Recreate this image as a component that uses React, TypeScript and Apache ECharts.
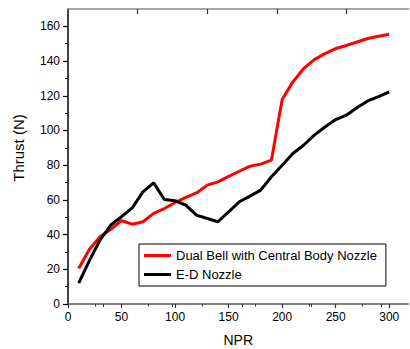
import React, { useEffect, useRef } from "react";
import * as echarts from "echarts";

const npr = [10, 20, 30, 40, 50, 60, 70, 80, 90, 100, 110, 120, 130, 140, 150, 160, 170, 180, 190, 200, 210, 220, 230, 240, 250, 260, 270, 280, 290, 300];
const dualBell = [20.5, 31.5, 38.7, 43, 48, 46, 47.4, 52.2, 55, 58.5, 61.5, 64, 68.5, 70.4, 73.5, 76.5, 79.4, 80.6, 82.9, 117.8, 128, 135.6, 140.8, 144.3, 147.2, 149, 151, 153, 154.3, 155.4];
const edNozzle = [12, 25, 37, 45.5, 50.3, 55.4, 64.6, 69.8, 60.2, 59.5, 57, 51.2, 49.3, 47.4, 53.1, 58.9, 62.2, 65.6, 73.3, 80, 86.7, 91.5, 97.3, 102, 106.3, 108.8, 113.2, 117, 119.5, 122.2];

const xMajorTicks = [0, 50, 100, 150, 200, 250, 300];
const xMinorTicks = [25, 75, 125, 175, 225, 275];
const yMajorTicks = [0, 20, 40, 60, 80, 100, 120, 140, 160];
const yMinorTicks = [10, 30, 50, 70, 90, 110, 130, 150];
const topMajorTicks = [65, 130, 195, 260];
const topMinorTicks = [32.5, 97.5, 162.5, 227.5, 292.5];

const FONT = "'Liberation Sans', Arial, sans-serif";

export default function App() {
  const ref = useRef<HTMLDivElement>(null);
  useEffect(() => {
    if (!ref.current) return;
    const chart = echarts.init(ref.current, undefined, { renderer: "svg" });
    const xRange = { min: 0, max: 318 };
    const yRange = { min: 0, max: 170 };
    chart.setOption({
      animation: false,
      backgroundColor: "#fff",
      textStyle: { fontFamily: FONT },
      grid: { left: 68, right: 1.5, top: 9, bottom: 45, outerBoundsMode: "none", containLabel: false },
      legend: {
        orient: "vertical",
        left: 139,
        top: 244,
        padding: [4, 9, 4, 5],
        itemGap: 4,
        itemWidth: 27,
        itemHeight: 3,
        borderColor: "#000",
        borderWidth: 1,
        backgroundColor: "#fff",
        textStyle: { fontSize: 13, color: "#000", fontFamily: FONT, lineHeight: 15 },
        data: [
          { name: "Dual Bell with Central Body Nozzle", icon: "rect" },
          { name: "E-D Nozzle", icon: "rect" },
        ],
      },
      xAxis: [
        {
          type: "value",
          ...xRange,
          interval: 50,
          position: "bottom",
          name: "NPR",
          nameLocation: "middle",
          nameGap: 29,
          nameTextStyle: { fontSize: 14, color: "#000", fontFamily: FONT },
          axisLine: { show: true, onZero: false, lineStyle: { color: "#555", width: 1.5 } },
          axisTick: { show: true, length: 4, customValues: xMajorTicks, lineStyle: { color: "#333", width: 1.2 } },
          axisLabel: { show: true, customValues: xMajorTicks, margin: 7, fontSize: 12, color: "#000", fontFamily: FONT },
          splitLine: { show: false },
        },
        {
          type: "value",
          ...xRange,
          interval: 50,
          position: "bottom",
          axisLine: { show: false },
          axisTick: { show: true, length: 2.5, customValues: xMinorTicks, lineStyle: { color: "#333", width: 1 } },
          axisLabel: { show: false },
          splitLine: { show: false },
        },
        {
          type: "value",
          ...xRange,
          interval: 50,
          position: "top",
          axisLine: { show: true, onZero: false, lineStyle: { color: "#888", width: 1.5 } },
          axisTick: { show: true, inside: true, length: 5, customValues: topMajorTicks, lineStyle: { color: "#333", width: 1.2 } },
          axisLabel: { show: false },
          splitLine: { show: false },
        },
        {
          type: "value",
          ...xRange,
          interval: 50,
          position: "top",
          axisLine: { show: false },
          axisTick: { show: true, inside: true, length: 3, customValues: topMinorTicks, lineStyle: { color: "#333", width: 1 } },
          axisLabel: { show: false },
          splitLine: { show: false },
        },
      ],
      yAxis: [
        {
          type: "value",
          ...yRange,
          interval: 20,
          position: "left",
          name: "Thrust (N)",
          nameLocation: "middle",
          nameGap: 42,
          nameTextStyle: { fontSize: 15, color: "#000", fontFamily: FONT, padding: [0, 0, 0, 17] },
          axisLine: { show: true, onZero: false, lineStyle: { color: "#000", width: 1.5 } },
          axisTick: { show: true, length: 5, customValues: yMajorTicks, lineStyle: { color: "#000", width: 1.2 } },
          axisLabel: { show: true, customValues: yMajorTicks, margin: 8, fontSize: 12, color: "#000", fontFamily: FONT },
          splitLine: { show: false },
        },
        {
          type: "value",
          ...yRange,
          interval: 20,
          position: "left",
          axisLine: { show: false },
          axisTick: { show: true, length: 3, customValues: yMinorTicks, lineStyle: { color: "#000", width: 1 } },
          axisLabel: { show: false },
          splitLine: { show: false },
        },
      ],
      series: [
        {
          name: "Dual Bell with Central Body Nozzle",
          type: "line",
          xAxisIndex: 0,
          yAxisIndex: 0,
          symbol: "none",
          data: npr.map((x, i) => [x, dualBell[i]]),
          lineStyle: { color: "#ff0000", width: 3 },
          itemStyle: { color: "#ff0000" },
        },
        {
          name: "E-D Nozzle",
          type: "line",
          xAxisIndex: 0,
          yAxisIndex: 0,
          symbol: "none",
          data: npr.map((x, i) => [x, edNozzle[i]]),
          lineStyle: { color: "#000", width: 3 },
          itemStyle: { color: "#000" },
        },
      ],
    });
    return () => chart.dispose();
  }, []);
  return (
    <div
      ref={ref}
      style={{ position: "fixed", left: 0, top: 0, width: 410, height: 349 }}
    />
  );
}
